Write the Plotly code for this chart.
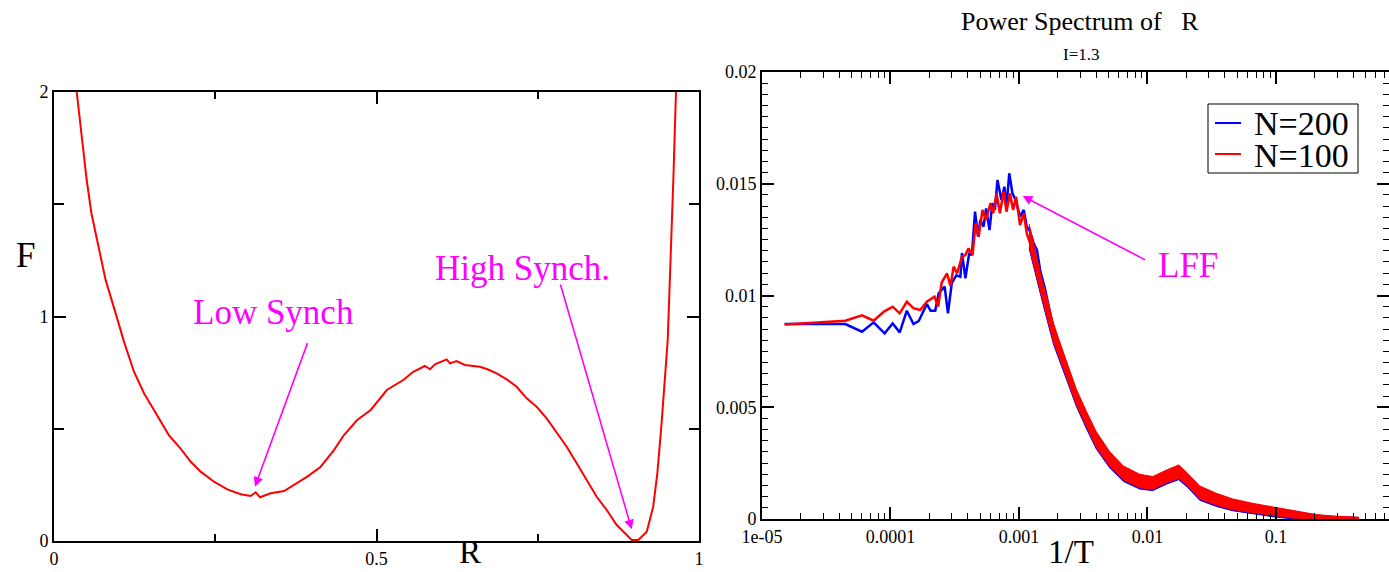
import plotly.graph_objects as go

# ---- left panel: free energy F(R) ----
R_vals = [0.0352, 0.0507, 0.058, 0.066, 0.073, 0.080, 0.0956, 0.1085, 0.124, 0.1395,
          0.155, 0.168, 0.178, 0.196, 0.212, 0.2274, 0.248, 0.2687, 0.2894, 0.305,
          0.3127, 0.3194, 0.336, 0.3566, 0.372, 0.3927, 0.4135, 0.434, 0.4496, 0.470,
          0.491, 0.516, 0.5416, 0.557, 0.575, 0.583, 0.5907, 0.6088, 0.614, 0.624,
          0.637, 0.660, 0.671, 0.6863, 0.7018, 0.7173, 0.7328, 0.7483, 0.7638, 0.779,
          0.7949, 0.8104, 0.826, 0.8414, 0.857, 0.8724, 0.888, 0.8956, 0.906, 0.919,
          0.929, 0.9354, 0.942, 0.9473, 0.9515, 0.9602, 0.9643]
F_vals = [2.0, 1.608, 1.46, 1.35, 1.25, 1.163, 1.014, 0.888, 0.754, 0.658,
          0.5835, 0.517, 0.472, 0.413, 0.353, 0.309, 0.264, 0.230, 0.208, 0.2004,
          0.217, 0.1946, 0.2125, 0.2227, 0.2494, 0.2866, 0.331, 0.405, 0.472, 0.539,
          0.5835, 0.6726, 0.717, 0.754, 0.7795, 0.765, 0.787, 0.809, 0.7914, 0.8017,
          0.784, 0.776, 0.766, 0.747, 0.720, 0.687, 0.6355, 0.598, 0.5465, 0.487,
          0.420, 0.346, 0.2717, 0.197, 0.138, 0.0713, 0.0267, 0.0045, 0.0045, 0.041,
          0.153, 0.3015, 0.524, 0.747, 0.895, 1.608, 2.0]

# ---- right panel: power spectrum, resolved low-frequency part ----
f_n200 = [1.5e-5, 4.45e-5, 6.0e-5, 7.4e-5, 9.0e-5, 1.04e-4, 1.18e-4, 1.34e-4, 1.51e-4, 1.66e-4,
          1.92e-4, 2.05e-4, 2.23e-4, 2.37e-4, 2.64e-4, 2.80e-4, 3.0e-4, 3.25e-4, 3.5e-4, 3.6e-4,
          3.83e-4, 4.1e-4, 4.3e-4, 4.55e-4, 4.8e-4, 5.0e-4, 5.3e-4, 5.55e-4, 5.9e-4, 6.2e-4,
          6.5e-4, 6.8e-4, 7.3e-4, 7.7e-4, 8.0e-4, 8.4e-4, 8.9e-4, 9.4e-4, 1.02e-3, 1.09e-3,
          1.15e-3, 1.22e-3, 1.30e-3, 1.38e-3, 1.46e-3, 1.60e-3, 1.75e-3, 1.90e-3, 2.15e-3]
P_n200 = [0.00872, 0.00872, 0.00838, 0.0088, 0.00831, 0.00875, 0.00835, 0.00932, 0.00872, 0.00886,
          0.00962, 0.00932, 0.00932, 0.0101, 0.0104, 0.0092, 0.01055, 0.0109, 0.01084, 0.0119,
          0.01077, 0.0119, 0.0118, 0.01375, 0.01263, 0.01338, 0.01308, 0.0139, 0.01293, 0.01413,
          0.01383, 0.01517, 0.01427, 0.01487, 0.01397, 0.01547, 0.01457, 0.01427, 0.01353, 0.01383,
          0.01308, 0.01286, 0.01234, 0.01204, 0.01114, 0.01025, 0.0092, 0.0083, 0.0074]

f_n100 = [1.5e-5, 4.45e-5, 6.0e-5, 7.4e-5, 8.9e-5, 1.04e-4, 1.18e-4, 1.34e-4, 1.51e-4, 1.70e-4,
          1.92e-4, 2.20e-4, 2.35e-4, 2.50e-4, 2.75e-4, 2.93e-4, 3.10e-4, 3.30e-4, 3.60e-4, 3.83e-4,
          4.05e-4, 4.35e-4, 4.60e-4, 4.85e-4, 5.2e-4, 5.55e-4, 6.0e-4, 6.3e-4, 6.7e-4, 7.1e-4,
          7.6e-4, 8.0e-4, 8.5e-4, 9.0e-4, 9.5e-4, 1.02e-3, 1.09e-3, 1.15e-3, 1.22e-3, 1.30e-3,
          1.38e-3, 1.50e-3, 1.65e-3, 1.80e-3, 1.97e-3, 2.2e-3]
P_n100 = [0.0087, 0.00887, 0.00911, 0.00887, 0.00928, 0.0095, 0.0092, 0.00972, 0.00943, 0.00935,
          0.00972, 0.00995, 0.0095, 0.01057, 0.01099, 0.01043, 0.01129, 0.01099, 0.01174, 0.01181,
          0.01211, 0.01181, 0.01323, 0.01263, 0.01383, 0.01338, 0.01413, 0.01368, 0.01457, 0.01368,
          0.01465, 0.01375, 0.01457, 0.01383, 0.01442, 0.01315, 0.01368, 0.01278, 0.01234, 0.01189,
          0.01129, 0.01055, 0.0098, 0.0089, 0.00816, 0.00726]

# ---- dense high-frequency part: upper / lower envelopes of the noisy spectrum ----
band_f = [1.2e-3, 1.54e-3, 1.86e-3, 2.36e-3, 2.8e-3, 3.36e-3, 4.0e-3, 5.1e-3, 6.5e-3, 8.7e-3,
          1.1e-2, 1.42e-2, 1.75e-2, 2.05e-2, 2.55e-2, 3.4e-2, 4.6e-2, 6.6e-2, 9.5e-2, 0.136,
          0.205, 0.28, 0.44]
n100_hi = [0.0132, 0.0105, 0.0087, 0.0070, 0.0058, 0.0048, 0.0039, 0.0030, 0.00237, 0.0020,
           0.0019, 0.0022, 0.00242, 0.00205, 0.00148, 0.00116, 0.0009, 0.0007, 0.00054, 0.00036,
           0.0002, 0.00013, 0.00008]
n100_lo = [0.0122, 0.0097, 0.0079, 0.0063, 0.0051, 0.0041, 0.0032, 0.00235, 0.00175, 0.0014,
           0.00133, 0.00163, 0.00182, 0.00148, 0.0009, 0.00063, 0.00042, 0.00028, 0.00015, 0.00004,
           0.0, 0.0, 0.0]
n200_hi = [0.0131, 0.0104, 0.0086, 0.0069, 0.0057, 0.0047, 0.0038, 0.0029, 0.0023, 0.00195,
           0.00185, 0.00215, 0.00237, 0.002, 0.00143, 0.00111, 0.00086, 0.00066, 0.0005, 0.00033,
           0.00018, 0.00012, 0.00007]
n200_lo = [0.0121, 0.0096, 0.0078, 0.0062, 0.00503, 0.00403, 0.00313, 0.00228, 0.00168, 0.00134,
           0.00127, 0.00157, 0.00176, 0.00142, 0.00084, 0.00057, 0.00037, 0.00023, 0.0001, 0.0,
           0.0, 0.0, 0.0]

x_tickvals = [1e-5, 1e-4, 1e-3, 1e-2, 1e-1]
x_ticktext = ["1e-05", "0.0001", "0.001", "0.01", "0.1"]
y_tickvals = [0, 0.005, 0.01, 0.015, 0.02]
y_ticktext = ["0", "0.005", "0.01", "0.015", "0.02"]

W, H = 1389, 572
SERIF = "Liberation Serif"
MAGENTA = "#ff00ff"
BLUE = "#0000ff"
RED = "#ff0000"


def px(x):
    return x / W


def py(y):
    return 1 - y / H


fig = go.Figure()

fig.add_trace(go.Scatter(x=R_vals, y=F_vals, mode="lines", line=dict(color=RED, width=2),
                         xaxis="x", yaxis="y", showlegend=False))


def band(fx, hi, lo, color):
    return go.Scatter(x=fx + fx[::-1], y=hi + lo[::-1], mode="lines", fill="toself",
                      fillcolor=color, line=dict(color=color, width=1),
                      xaxis="x2", yaxis="y2", showlegend=False, hoverinfo="skip")


fig.add_trace(band(band_f, n200_hi, n200_lo, BLUE))
fig.add_trace(go.Scatter(x=f_n200, y=P_n200, mode="lines", line=dict(color=BLUE, width=2.5),
                         xaxis="x2", yaxis="y2", name="N=200", showlegend=False))
fig.add_trace(band(band_f, n100_hi, n100_lo, RED))
fig.add_trace(go.Scatter(x=f_n100, y=P_n100, mode="lines", line=dict(color=RED, width=2.5),
                         xaxis="x2", yaxis="y2", name="N=100", showlegend=False))

tickfont = dict(family=SERIF, size=18, color="black")
common = dict(showline=True, linecolor="black", linewidth=2, ticks="inside",
              tickcolor="black", tickwidth=1.5, mirror="ticks", showgrid=False,
              zeroline=False, tickfont=tickfont, automargin=False)

minor_log = [d * 10.0 ** e for e in range(-5, 0) for d in range(2, 10)]

fig.update_layout(
    width=W, height=H,
    margin=dict(l=0, r=0, t=0, b=0, autoexpand=False),
    paper_bgcolor="white", plot_bgcolor="white",
    font=dict(family=SERIF, color="black"),
    xaxis=dict(domain=[px(54), px(699)], range=[0, 1], anchor="y",
               tickvals=[0, 0.5, 1], ticktext=["0", "0.5", "1"], ticklen=12,
               minor=dict(tickvals=[0.25, 0.75], ticklen=7, ticks="inside",
                          tickcolor="black", tickwidth=1.5),
               **common),
    yaxis=dict(domain=[py(541), py(92)], range=[0, 2], anchor="x",
               tickvals=[0, 1, 2], ticktext=["0", "1", "2"], ticklen=12,
               minor=dict(tickvals=[0.5, 1.5], ticklen=10, ticks="inside",
                          tickcolor="black", tickwidth=1.5),
               **common),
    xaxis2=dict(domain=[px(762), 1.0], type="log", range=[-5, -0.12], anchor="y2",
                tickvals=x_tickvals, ticktext=x_ticktext, ticklen=12,
                minor=dict(tickvals=minor_log, ticklen=6, ticks="inside",
                           tickcolor="black", tickwidth=1),
                **common),
    yaxis2=dict(domain=[py(519), py(72)], range=[0, 0.02], anchor="x2",
                tickvals=y_tickvals, ticktext=y_ticktext, ticklen=12,
                minor=dict(dtick=0.0005, ticklen=6, ticks="inside",
                           tickcolor="black", tickwidth=1),
                **common),
)

annotations = []

# axis titles and headings
def label(text, x, y, size, yanchor="middle"):
    annotations.append(dict(text=text, x=px(x), y=py(y), xref="paper", yref="paper",
                            showarrow=False, xanchor="center", yanchor=yanchor,
                            font=dict(family=SERIF, size=size, color="black")))


label("F", 25, 256, 35)
label("R", 470, 572, 33, yanchor="bottom")
label("1/T", 1071, 572, 33, yanchor="bottom")
label("Power Spectrum of\u00a0\u00a0\u00a0R", 1080, 22, 26)
label("I=1.3", 1081, 55, 17)

# magenta labels with arrows
def note(text, x, y, xr, yr, size=35):
    annotations.append(dict(text=text, x=x, y=y, xref=xr, yref=yr, showarrow=False,
                            xanchor="center", yanchor="middle",
                            font=dict(family=SERIF, size=size, color=MAGENTA)))


def arrow(x0, y0, x1, y1, xr, yr):
    annotations.append(dict(text="", x=x1, y=y1, ax=x0, ay=y0, xref=xr, yref=yr,
                            axref=xr, ayref=yr, showarrow=True, arrowhead=2,
                            arrowsize=1.2, arrowwidth=1.6, arrowcolor=MAGENTA,
                            standoff=0, startstandoff=0))


note("Low Synch", 0.3403, 1.016, "x", "y")
arrow(0.3938, 0.888, 0.3116, 0.242, "x", "y")
note("High Synch.", 0.7256, 1.216, "x", "y")
arrow(0.7845, 1.149, 0.8957, 0.052, "x", "y")
note("LFF", -1.687, 0.01136, "x2", "y2")
arrow(-2.006, 0.01156, -2.971, 0.01445, "x2", "y2")

# legend box
shapes = [dict(type="rect", xref="paper", yref="paper", x0=px(1208), x1=px(1358),
               y0=py(173), y1=py(104), line=dict(color="black", width=1),
               fillcolor="white", layer="above")]
for name, color, yy in [("N=200", BLUE, 123), ("N=100", RED, 154)]:
    shapes.append(dict(type="line", xref="paper", yref="paper", x0=px(1215), x1=px(1241),
                       y0=py(yy), y1=py(yy), line=dict(color=color, width=2),
                       layer="above"))
    annotations.append(dict(text=name, x=px(1252), y=py(yy + 1), xref="paper", yref="paper",
                            showarrow=False, xanchor="left", yanchor="middle",
                            font=dict(family=SERIF, size=34, color="black")))

fig.update_layout(annotations=annotations, shapes=shapes)

fig.write_html("out.html")
